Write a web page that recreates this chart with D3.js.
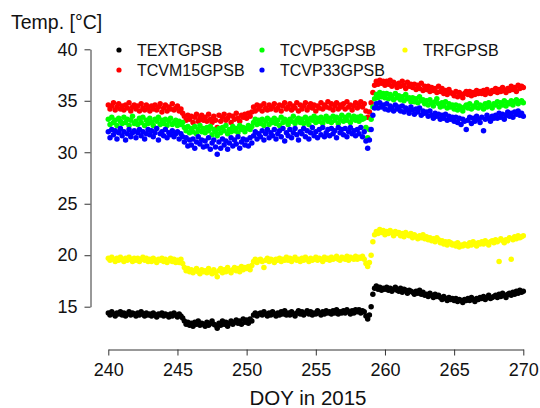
<!DOCTYPE html>
<html>
<head>
<meta charset="utf-8">
<script src="https://cdn.jsdelivr.net/npm/d3@7"></script>
<style>
  html, body { margin: 0; padding: 0; background: #fff; }
  svg { display: block; font-family: "Liberation Sans", Arial, Helvetica, sans-serif; }
</style>
</head>
<body>
<svg id="chart" width="540" height="408"></svg>
<script>
// Readings every 3 hours (8 per day), DOY 240.0 to DOY 270.0; one row per day
const doyStart = 240;
const doyStep = 0.125;

const xTicks = [240, 245, 250, 255, 260, 265, 270];
const yTicks = [15, 20, 25, 30, 35, 40];

const seriesNames = ["TEXTGPSB", "TCVM15GPSB", "TCVP5GPSB", "TCVP33GPSB", "TRFGPSB"];
const seriesColors = ["#000000", "#ff0000", "#00ff00", "#0000ff", "#ffff00"];

const TEXTGPSB = [
  14.4,14.2,14.5,14.3,14.1,14.4,14.3,14.5,
  14.2,14.4,14.1,14.3,14.5,14.2,14.4,14.3,
  14.1,14.4,14.2,14.5,14.3,14.1,14.4,14.2,
  14.3,14.1,14.4,14.2,14.0,14.3,14.2,14.4,
  14.1,14.3,14.2,14.0,14.3,14.1,14.4,14.2,
  14.0,14.3,14.1,13.9,13.6,13.3,13.5,13.2,
  13.4,13.1,13.5,13.3,13.6,13.2,13.4,13.3,
  13.1,13.5,13.2,13.4,13.6,13.3,13.2,12.9,
  13.4,13.2,13.6,13.3,13.5,13.1,13.4,13.6,
  13.3,13.5,13.7,13.4,13.6,13.3,13.8,13.5,
  13.7,13.4,13.8,13.6,14.2,14.4,14.1,14.3,
  14.4,14.2,14.5,14.3,14.1,14.4,14.2,14.5,
  14.3,14.1,14.4,14.2,14.5,14.3,14.6,14.2,
  14.4,14.2,14.5,14.3,14.1,14.4,14.6,14.3,
  14.5,14.2,14.4,14.6,14.3,14.5,14.2,14.4,
  14.3,14.6,14.4,14.2,14.5,14.3,14.6,14.4,
  14.5,14.3,14.6,14.4,14.7,14.3,14.5,14.4,
  14.6,14.4,14.7,14.5,14.3,14.6,14.4,14.7,
  14.5,14.7,14.4,14.6,14.5,14.1,13.8,14.2,
  15.0,16.2,16.8,17.0,16.7,16.9,16.6,16.8,
  16.7,16.9,16.6,16.8,16.5,16.7,16.9,16.6,
  16.5,16.8,16.4,16.7,16.6,16.3,16.6,16.5,
  16.4,16.2,16.5,16.3,16.6,16.2,16.4,16.1,
  16.2,16.0,16.3,16.1,15.9,16.2,16.0,16.1,
  15.9,15.7,16.0,15.8,15.6,15.9,15.7,15.8,
  15.6,15.8,15.5,15.7,15.6,15.4,15.7,15.6,
  15.8,15.6,15.9,15.7,15.5,15.8,15.7,15.9,
  15.8,16.0,15.7,15.9,16.1,15.8,15.9,16.0,
  16.1,15.9,16.2,16.0,16.3,16.1,15.9,16.2,
  16.3,16.1,16.4,16.2,16.5,16.3,16.6,16.4,
  16.5
];

const TCVM15GPSB = [
  34.6,34.2,34.5,34.8,34.1,34.4,34.7,34.2,
  34.5,34.1,34.6,34.3,34.8,34.0,34.4,34.6,
  34.2,34.5,34.0,34.7,34.3,34.1,34.6,34.3,
  34.0,34.5,34.2,34.6,34.1,34.4,34.7,33.9,
  34.3,34.6,34.0,34.4,34.2,34.7,34.1,34.3,
  34.5,34.0,34.2,33.8,33.5,33.1,33.6,33.2,
  33.5,32.9,33.4,33.7,33.0,33.3,33.6,33.1,
  33.4,33.0,33.7,33.2,32.9,33.5,33.1,32.4,
  33.6,33.0,33.4,33.7,33.1,33.3,33.6,32.9,
  33.5,33.2,33.8,33.3,33.0,33.6,33.4,33.7,
  33.3,33.8,33.5,33.9,34.4,34.0,34.6,34.2,
  34.5,34.0,34.7,34.3,34.1,34.6,34.2,34.4,
  34.7,34.1,34.3,34.6,34.0,34.5,34.8,34.2,
  34.4,34.7,34.1,34.5,34.3,34.8,34.0,34.6,
  34.2,34.5,34.8,34.1,34.4,34.7,34.3,34.6,
  34.0,34.5,34.3,34.8,34.2,34.6,34.4,34.9,
  34.3,34.7,34.1,34.5,34.8,34.2,34.6,34.4,
  34.7,34.2,34.9,34.4,34.6,34.1,34.5,34.8,
  34.3,34.6,34.9,34.4,34.7,34.0,33.4,33.9,
  34.8,35.8,36.5,36.9,36.6,37.0,36.7,36.9,
  36.5,36.9,36.6,37.0,36.4,36.8,36.6,36.3,
  36.7,36.4,36.9,36.5,36.2,36.8,36.4,36.6,
  36.3,36.6,36.1,36.5,36.2,36.7,36.0,36.4,
  36.1,36.4,35.9,36.3,36.0,36.2,35.8,36.4,
  35.9,36.2,35.7,36.0,35.6,36.1,35.8,35.7,
  35.5,35.9,35.4,35.8,35.6,35.3,35.7,35.9,
  35.6,35.9,35.5,35.8,35.6,36.0,35.7,35.9,
  35.7,36.0,35.6,36.1,35.8,35.7,36.0,35.9,
  36.2,35.8,36.1,35.9,36.3,36.0,35.8,36.2,
  36.0,36.4,36.1,36.3,35.9,36.5,36.2,36.4,
  36.3
];

const TCVP5GPSB = [
  33.2,32.7,33.4,32.9,33.1,32.6,33.3,33.0,
  32.8,33.4,32.9,33.2,32.6,33.1,33.5,32.8,
  33.0,32.7,33.3,32.9,33.4,32.6,33.1,32.8,
  33.3,32.9,32.6,33.2,33.0,33.4,32.7,33.1,
  32.8,33.2,32.6,33.0,33.3,32.7,32.9,33.1,
  32.6,33.0,32.7,32.9,32.4,32.1,32.5,31.9,
  32.3,32.0,32.5,31.8,32.2,32.6,32.0,32.3,
  31.9,32.4,32.1,32.5,31.7,32.2,32.0,31.6,
  32.3,31.9,32.4,32.1,32.6,31.8,32.2,32.0,
  32.5,32.1,32.3,31.9,32.6,32.2,32.4,32.0,
  32.3,32.6,32.2,32.5,32.9,33.2,32.7,33.1,
  32.8,33.2,32.6,33.0,33.3,32.7,33.1,32.9,
  33.3,32.8,33.1,32.6,33.4,32.9,33.2,33.0,
  32.7,33.2,33.0,33.5,32.8,33.1,33.3,32.9,
  33.2,32.8,33.4,33.0,32.7,33.3,33.1,33.5,
  32.9,33.3,33.0,33.4,32.8,33.2,33.5,33.0,
  33.3,32.9,33.5,33.1,33.4,32.8,33.2,33.6,
  33.0,33.4,33.1,33.6,32.9,33.3,33.5,33.1,
  33.4,33.0,33.5,33.2,33.3,32.4,31.4,32.2,
  33.2,34.4,35.2,35.6,35.3,35.8,35.4,35.7,
  35.3,35.7,35.2,35.6,35.4,35.1,35.7,35.3,
  35.5,35.1,35.4,35.0,35.6,35.2,35.3,34.9,
  35.3,34.9,35.2,34.8,35.4,35.0,35.1,34.7,
  35.0,34.6,35.1,34.8,34.5,34.9,35.2,34.7,
  34.4,34.8,34.5,34.9,34.3,34.7,34.4,34.6,
  34.2,34.6,34.1,34.5,34.3,34.0,34.4,34.6,
  34.3,34.7,34.2,34.5,34.4,34.8,34.3,34.6,
  34.5,34.2,34.7,34.4,34.8,34.5,34.3,34.7,
  34.6,34.9,34.4,34.8,34.6,35.0,34.5,34.8,
  34.7,35.0,34.6,34.9,35.1,34.7,34.9,35.0,
  34.8
];

const TCVP33GPSB = [
  32.0,31.4,32.2,31.7,32.1,31.3,31.9,32.3,
  31.6,32.0,31.2,31.8,32.2,31.5,31.9,32.1,
  31.4,31.9,32.2,31.6,32.0,31.3,31.8,32.2,
  31.7,32.1,31.5,31.9,32.3,31.2,31.8,32.0,
  31.6,32.2,31.4,31.9,31.7,32.1,31.5,31.8,
  32.0,31.3,31.8,31.5,31.0,31.4,30.6,31.2,
  30.7,31.3,30.4,31.0,31.5,30.8,31.2,30.5,
  31.1,30.6,31.4,30.3,30.9,31.2,30.5,29.8,
  31.0,30.4,31.3,30.7,31.1,30.3,30.9,31.4,
  30.6,31.2,30.8,31.5,30.4,31.0,31.3,30.7,
  31.2,30.6,31.4,30.9,31.6,32.0,31.3,31.8,
  31.5,32.1,31.2,31.8,32.2,31.4,31.9,31.6,
  32.2,31.3,31.8,32.1,31.5,32.3,31.1,31.9,
  31.6,32.2,31.4,31.9,32.3,31.7,31.2,32.0,
  31.8,32.3,31.5,32.1,31.3,31.9,32.4,31.6,
  32.0,31.4,32.2,31.7,32.4,31.5,31.9,32.2,
  31.6,32.3,31.8,32.1,31.4,32.4,31.9,32.2,
  31.7,32.3,31.5,32.0,32.4,31.8,32.1,31.6,
  32.2,31.8,32.4,31.5,32.0,31.1,30.4,31.2,
  32.2,33.6,34.3,34.7,34.3,34.8,34.4,34.6,
  34.2,34.7,34.1,34.5,34.3,34.0,34.6,34.2,
  34.4,34.0,34.5,33.9,34.3,34.1,33.8,34.4,
  34.1,33.7,34.2,33.9,34.3,33.6,34.0,33.8,
  33.9,33.5,34.0,33.6,33.3,33.8,33.5,33.7,
  33.2,33.6,33.3,33.7,33.1,33.5,33.2,33.4,
  33.0,33.4,32.9,33.3,32.7,33.2,33.0,32.2,
  33.1,33.4,32.8,33.3,33.0,33.5,33.2,32.9,
  33.4,32.1,33.2,33.6,33.3,33.0,33.5,33.3,
  33.6,33.3,33.8,33.4,33.7,33.2,33.6,33.9,
  33.5,33.8,33.4,33.9,33.7,34.0,33.6,33.8,
  33.5
];

const TRFGPSB = [
  19.7,19.5,19.8,19.6,19.4,19.7,19.5,19.8,
  19.6,19.4,19.7,19.5,19.8,19.6,19.4,19.7,
  19.5,19.7,19.4,19.6,19.8,19.5,19.7,19.4,
  19.6,19.4,19.7,19.5,19.3,19.6,19.5,19.7,
  19.4,19.6,19.3,19.5,19.7,19.4,19.6,19.3,
  19.5,19.3,19.6,19.2,18.8,18.5,18.7,18.4,
  18.6,18.3,18.5,18.7,18.4,18.2,18.6,18.4,
  18.5,18.3,18.7,18.4,18.2,18.6,18.3,17.9,
  18.5,18.7,18.3,18.6,18.4,18.8,18.5,18.3,
  18.6,18.8,18.5,18.7,18.4,18.9,18.6,18.8,
  18.7,18.9,18.6,19.0,19.4,19.6,19.3,19.5,
  19.6,19.4,18.8,19.5,19.7,19.4,19.6,19.5,
  19.3,19.6,19.5,19.7,19.4,19.6,19.5,19.8,
  19.5,19.7,19.4,19.6,19.8,19.5,19.6,19.4,
  19.7,19.5,19.8,19.6,19.4,19.7,19.5,19.6,
  19.8,19.5,19.7,19.6,19.4,19.8,19.6,19.7,
  19.5,19.8,19.6,19.7,19.9,19.6,19.5,19.8,
  19.7,19.6,19.9,19.5,19.8,19.7,19.6,19.9,
  19.6,19.8,19.7,19.9,19.6,19.2,18.9,19.3,
  20.0,21.3,22.0,22.3,22.1,22.5,22.2,22.4,
  22.0,22.3,22.1,22.4,22.2,21.9,22.3,22.1,
  22.2,21.9,22.1,21.8,22.2,22.0,21.9,22.1,
  21.7,22.0,21.8,21.6,21.9,21.7,22.0,21.6,
  21.8,21.5,21.7,21.4,21.6,21.3,21.7,21.5,
  21.2,21.4,21.1,21.3,21.0,21.3,21.2,21.0,
  21.1,20.9,21.2,20.8,21.0,20.9,21.1,21.0,
  20.9,21.2,21.0,21.3,21.1,20.9,21.2,21.1,
  21.3,21.1,21.4,21.2,21.0,21.3,21.4,21.2,
  21.5,21.3,19.4,21.6,21.4,21.2,21.5,21.4,
  21.7,19.6,21.5,21.8,21.6,21.9,21.7,21.8,
  21.9
];

// Drawing order: black first, yellow last
const seriesValues = [TEXTGPSB, TCVM15GPSB, TCVP5GPSB, TCVP33GPSB, TRFGPSB];

const svg = d3.select("#chart");

const x = d3.scaleLinear().domain([240, 270]).range([108.3, 523.3]);
const y = d3.scaleLinear().domain([15, 40]).range([306.7, 49.3]);

// Points
seriesValues.forEach((vals, k) => {
  svg.append("g")
    .selectAll("circle")
    .data(vals)
    .join("circle")
    .attr("cx", (d, i) => x(doyStart + i * doyStep))
    .attr("cy", d => y(d))
    .attr("r", 2.75)
    .attr("fill", seriesColors[k]);
});

// Axes
const axisColor = "#333";
const gx = svg.append("g")
  .attr("transform", "translate(0,349.5)")
  .call(d3.axisBottom(x).tickValues(xTicks).tickSize(6).tickSizeOuter(0).tickPadding(8).tickFormat(d3.format("d")));
const gy = svg.append("g")
  .attr("transform", "translate(90.5,0)")
  .call(d3.axisLeft(y).tickValues(yTicks).tickSize(6).tickSizeOuter(0).tickPadding(7).tickFormat(d3.format("d")));
[gx, gy].forEach(g => {
  g.select(".domain").attr("stroke", axisColor);
  g.selectAll(".tick line").attr("stroke", axisColor);
  g.selectAll(".tick text").attr("fill", "#111").style("font-size", "18px")
    .style("font-family", '"Liberation Sans", Arial, sans-serif');
});

// Titles
svg.append("text")
  .attr("x", 11).attr("y", 29)
  .attr("fill", "#111")
  .style("font-size", "19.5px")
  .text("Temp. [°C]");

svg.append("text")
  .attr("x", 308).attr("y", 405)
  .attr("text-anchor", "middle")
  .attr("fill", "#111")
  .style("font-size", "20.5px")
  .text("DOY in 2015");

// Legend: three columns, filled column by column
const legendCols = [119, 262, 405];
const legendRows = [50, 70];
const legend = svg.append("g");
seriesNames.forEach((name, k) => {
  const cx = legendCols[Math.floor(k / 2)];
  const cy = legendRows[k % 2];
  legend.append("circle")
    .attr("cx", cx).attr("cy", cy).attr("r", 2.6)
    .attr("fill", seriesColors[k]);
  legend.append("text")
    .attr("x", cx + 18).attr("y", cy)
    .attr("dy", "0.35em")
    .attr("fill", "#111")
    .style("font-size", "16px")
    .text(name);
});
</script>
</body>
</html>
